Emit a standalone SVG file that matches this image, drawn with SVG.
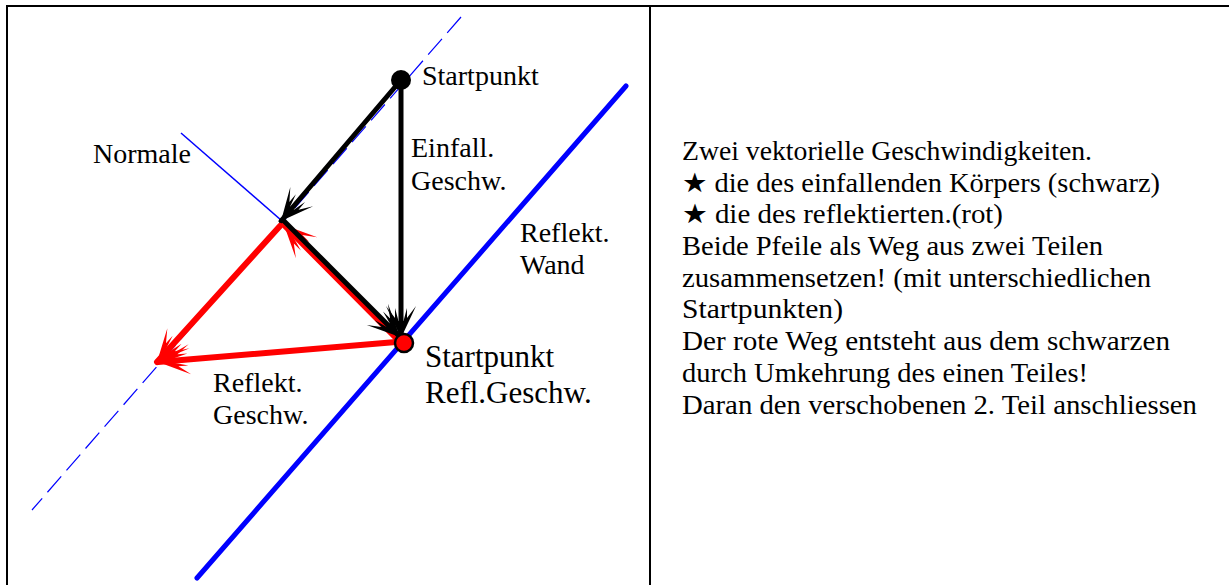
<svg xmlns="http://www.w3.org/2000/svg" width="1229" height="585" viewBox="0 0 1229 585">
<style>
.lbl{font-family:"Liberation Serif","DejaVu Serif",serif;font-size:28px;fill:#000}
.big{font-size:31px}
.txt{font-family:"Liberation Serif","DejaVu Serif",serif;font-size:27px;fill:#000}
.frame{stroke:#000;stroke-width:2;fill:none}
.blk{stroke:#000;stroke-width:5;fill:none;stroke-linecap:round}
.red{stroke:#ff0000;stroke-width:6;fill:none;stroke-linecap:round}
</style>
<defs>
<marker id="ah-k" markerUnits="userSpaceOnUse" viewBox="-36 -18 38 36" refX="0" refY="0" markerWidth="38" markerHeight="36" orient="auto">
<path d="M0,0 L-32,-15 L-20,-6 L-30,-6 L-17,-2.5 L-17,2.5 L-30,6 L-20,6 L-32,15 Z" fill="#000"/>
</marker>
<marker id="ah-r" markerUnits="userSpaceOnUse" viewBox="-36 -18 38 36" refX="0" refY="0" markerWidth="38" markerHeight="36" orient="auto">
<path d="M0,0 L-32,-15 L-20,-6 L-30,-6 L-17,-2.5 L-17,2.5 L-30,6 L-20,6 L-32,15 Z" fill="#ff0000"/>
</marker>
</defs>
<g id="frame">
<line class="frame" x1="6" y1="6" x2="1229" y2="6"/>
<line class="frame" x1="7" y1="6" x2="7" y2="585"/>
<line class="frame" x1="650" y1="6" x2="650" y2="585"/>
</g>
<g id="wall">
<line x1="626" y1="86" x2="197" y2="578" stroke="#0000ff" stroke-width="5" stroke-linecap="round"/>
</g>
<g id="parallel">
<line x1="461" y1="17" x2="32" y2="510" stroke="#0000ff" stroke-width="1.2" stroke-dasharray="21 8"/>
</g>
<g id="normal">
<line x1="181" y1="133" x2="305" y2="241" stroke="#0000ff" stroke-width="1.5"/>
</g>
<g id="connectors">
<line class="red" x1="400" y1="342" x2="284" y2="225" marker-end="url(#ah-r)"/>
<line class="blk" x1="401" y1="80" x2="281" y2="221" marker-end="url(#ah-k)"/>
<line class="blk" x1="401" y1="80" x2="401" y2="338" marker-end="url(#ah-k)"/>
<line class="blk" x1="284" y1="221" x2="400" y2="337" marker-end="url(#ah-k)"/>
<line class="red" x1="280" y1="226" x2="157" y2="362" marker-end="url(#ah-r)"/>
<line class="red" x1="396" y1="342" x2="158" y2="362" marker-end="url(#ah-r)"/>
</g>
<g id="start">
<circle cx="401" cy="80" r="10" fill="#000"/>
<text class="lbl" x="422" y="85">Startpunkt</text>
</g>
<g id="start-refl">
<circle cx="404" cy="343" r="9" fill="#ff0000" stroke="#000" stroke-width="2.5"/>
<text class="lbl big" x="425" y="367">Startpunkt</text>
<text class="lbl big" x="425" y="403">Refl.Geschw.</text>
</g>
<g id="normale-label"><text class="lbl" x="93" y="163">Normale</text></g>
<g id="einfall-label">
<text class="lbl" x="411" y="157">Einfall.</text>
<text class="lbl" x="411" y="190">Geschw.</text>
</g>
<g id="wand-label">
<text class="lbl" x="520" y="242">Reflekt.</text>
<text class="lbl" x="520" y="274">Wand</text>
</g>
<g id="refl-label">
<text class="lbl" x="213" y="392">Reflekt.</text>
<text class="lbl" x="213" y="424">Geschw.</text>
</g>
<g id="description">
<text class="txt" x="682" y="160" textLength="410" lengthAdjust="spacingAndGlyphs">Zwei vektorielle Geschwindigkeiten.</text>
<text class="txt" x="682" y="192" textLength="478" lengthAdjust="spacingAndGlyphs">★ die des einfallenden Körpers (schwarz)</text>
<text class="txt" x="682" y="223" textLength="321" lengthAdjust="spacingAndGlyphs">★ die des reflektierten.(rot)</text>
<text class="txt" x="682" y="255" textLength="421" lengthAdjust="spacingAndGlyphs">Beide Pfeile als Weg aus zwei Teilen</text>
<text class="txt" x="682" y="287" textLength="469" lengthAdjust="spacingAndGlyphs">zusammensetzen! (mit unterschiedlichen</text>
<text class="txt" x="682" y="318" textLength="161" lengthAdjust="spacingAndGlyphs">Startpunkten)</text>
<text class="txt" x="682" y="350" textLength="488" lengthAdjust="spacingAndGlyphs">Der rote Weg entsteht aus dem schwarzen</text>
<text class="txt" x="682" y="382" textLength="406" lengthAdjust="spacingAndGlyphs">durch Umkehrung des einen Teiles!</text>
<text class="txt" x="682" y="414" textLength="515" lengthAdjust="spacingAndGlyphs">Daran den verschobenen 2. Teil anschliessen</text>
</g>
</svg>
